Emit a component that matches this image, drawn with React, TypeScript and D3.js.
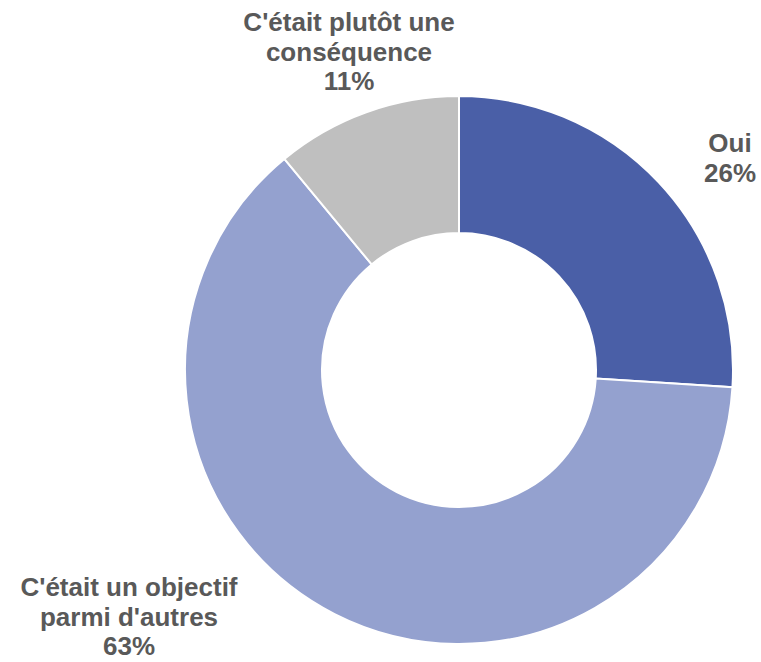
import React, { useEffect, useRef } from "react";
import * as d3 from "d3";

const categories = ["Oui", "C'était un objectif parmi d'autres", "C'était plutôt une conséquence"];
const values = [26, 63, 11];
const colors = ["#4A5FA7", "#94A1CF", "#BFBFBF"];
// label lines and anchor positions (center x, first baseline y)
const labelLines = [
  ["Oui", "26%"],
  ["C'était un objectif", "parmi d'autres", "63%"],
  ["C'était plutôt une", "conséquence", "11%"],
];
const labelPos = [
  [730, 152],
  [129, 596],
  [349, 31],
];

const App: React.FC = () => {
  const svgRef = useRef<SVGSVGElement | null>(null);

  useEffect(() => {
    if (!svgRef.current) return;
    const width = 761;
    const height = 662;
    const cx = 459;
    const cy = 370;
    const outer = 274;
    const inner = 137;

    d3.select(svgRef.current).selectAll("*").remove();
    const svg = d3.select(svgRef.current).attr("width", width).attr("height", height);

    const pie = d3.pie<number>().sort(null).value((d) => d);
    const arc = d3.arc<d3.PieArcDatum<number>>().innerRadius(inner).outerRadius(outer);

    svg
      .append("g")
      .attr("transform", `translate(${cx},${cy})`)
      .selectAll("path")
      .data(pie(values))
      .enter()
      .append("path")
      .attr("d", arc)
      .attr("fill", (_, i) => colors[i])
      .attr("stroke", "#ffffff")
      .attr("stroke-width", 2);

    // labels
    categories.forEach((_, i) => {
      const t = svg
        .append("text")
        .attr("text-anchor", "middle")
        .attr("fill", "#595959")
        .style("font-family", "'Liberation Sans', Arial, sans-serif")
        .style("font-weight", "bold")
        .style("font-size", "26px");
      labelLines[i].forEach((line, j) => {
        t.append("tspan")
          .attr("x", labelPos[i][0])
          .attr("y", labelPos[i][1] + j * 29.5)
          .text(line);
      });
    });
  }, []);

  return (
    <svg ref={svgRef} style={{ position: "absolute", left: 0, top: 0 }}></svg>
  );
};

export default App;
